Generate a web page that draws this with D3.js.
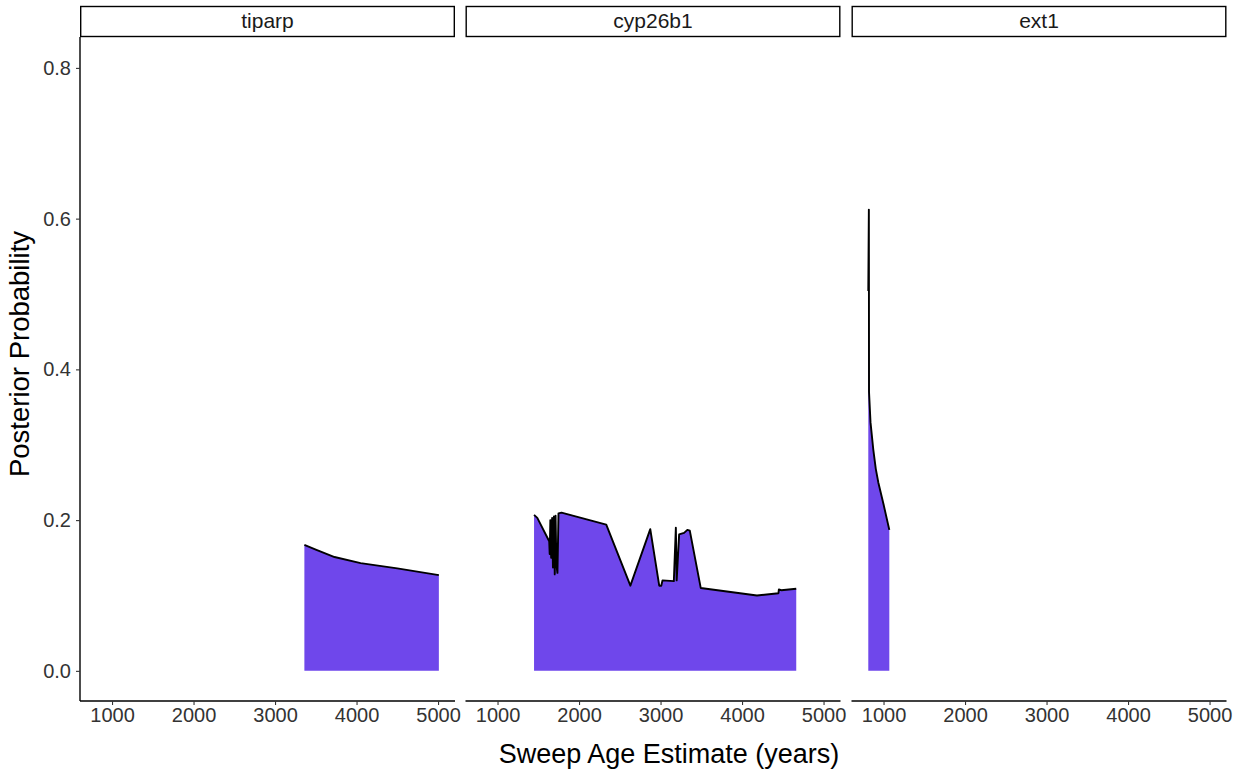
<!DOCTYPE html>
<html>
<head>
<meta charset="utf-8">
<script src="https://cdn.jsdelivr.net/npm/d3@7"></script>
<style>
  body { margin: 0; background: #fff; }
  text { font-family: "Liberation Sans", Arial, sans-serif; }
</style>
</head>
<body>
<div class="chart"></div>
<script>
// facet names
var genes = ["tiparp", "cyp26b1", "ext1"];

// [age, posterior]
var tiparpValues = [
  [3360, 0.167], [3500, 0.161], [3730, 0.151], [4050, 0.143],
  [4500, 0.136], [5010, 0.127]
];
var cyp26b1Values = [
  [1448, 0.207], [1488, 0.203], [1634, 0.172], [1640, 0.155], [1648, 0.200],
  [1658, 0.150], [1670, 0.203], [1680, 0.137], [1692, 0.205], [1702, 0.128],
  [1712, 0.206], [1722, 0.141], [1735, 0.130], [1748, 0.209], [1785, 0.210],
  [2334, 0.194], [2630, 0.113], [2874, 0.188], [2984, 0.113], [3009, 0.113],
  [3024, 0.120], [3163, 0.119], [3188, 0.190], [3198, 0.120], [3228, 0.181],
  [3289, 0.183], [3329, 0.187], [3359, 0.186], [3493, 0.110], [4183, 0.100],
  [4447, 0.103], [4452, 0.108], [4482, 0.107], [4665, 0.109]
];
var ext1Values = [
  [813, 0.504], [820, 0.612], [822, 0.370], [840, 0.330], [874, 0.294],
  [905, 0.268], [936, 0.250], [1000, 0.221], [1071, 0.187]
];
var xTicks = [1000, 2000, 3000, 4000, 5000];
var yTicks = [0.0, 0.2, 0.4, 0.6, 0.8];

var series = [tiparpValues, cyp26b1Values, ext1Values];

function init() {
  var w = 1239;
  var h = 771;
  var panelLefts = [80, 465.5, 851.5];
  var panelW = 375;
  var top = 37;
  var bottom = 701;
  var fill = "#6f47eb";

  var svg = d3.select(".chart")
    .append("svg")
    .attr("width", w)
    .attr("height", h);

  var yScale = d3.scaleLinear()
    .domain([-0.04, 0.841])
    .range([bottom, top]);

  genes.forEach(function(gene, i) {
    var x0 = panelLefts[i];
    var xScale = d3.scaleLinear()
      .domain([607, 5208])
      .range([x0, x0 + panelW]);

    var g = svg.append("g");

    var area = d3.area()
      .x(function(d) { return xScale(d[0]); })
      .y0(yScale(0))
      .y1(function(d) { return yScale(d[1]); });

    var line = d3.line()
      .x(function(d) { return xScale(d[0]); })
      .y(function(d) { return yScale(d[1]); });

    g.append("path")
      .datum(series[i])
      .attr("d", area)
      .attr("fill", fill);

    g.append("path")
      .datum(series[i])
      .attr("d", line)
      .attr("fill", "none")
      .attr("stroke", "#000")
      .attr("stroke-width", 1.9)
      .attr("stroke-linejoin", "round");

    // strip
    g.append("rect")
      .attr("x", x0 + 0.7)
      .attr("y", 6.5)
      .attr("width", panelW - 1.4)
      .attr("height", 30)
      .attr("fill", "#fff")
      .attr("stroke", "#000")
      .attr("stroke-width", 1.4);

    g.append("text")
      .attr("x", x0 + panelW / 2)
      .attr("y", 28)
      .attr("text-anchor", "middle")
      .attr("font-size", "21px")
      .attr("fill", "#1a1a1a")
      .text(gene);

    // x axis
    var xAxis = g.append("g")
      .attr("transform", "translate(0," + bottom + ")")
      .call(d3.axisBottom(xScale).tickValues(xTicks).tickSize(4).tickPadding(3).tickFormat(d3.format("d")));
    xAxis.select(".domain").attr("d", "M" + x0 + ",0H" + (x0 + panelW)).attr("stroke-width", 1.4);
    xAxis.selectAll(".tick line").attr("stroke", "#333").attr("stroke-width", 1.1);
    xAxis.selectAll(".tick text")
      .attr("font-size", "20px")
      .attr("fill", "#333")
      .style("font-family", "'Liberation Sans', Arial, sans-serif");
  });

  // y axis
  var yAxis = svg.append("g")
    .attr("transform", "translate(" + panelLefts[0] + ",0)")
    .call(d3.axisLeft(yScale).tickValues(yTicks).tickSize(4).tickPadding(5).tickFormat(d3.format(".1f")));
  yAxis.select(".domain").attr("d", "M0," + top + "V" + bottom).attr("stroke-width", 1.4);
  yAxis.selectAll(".tick line").attr("stroke", "#333").attr("stroke-width", 1.1);
  yAxis.selectAll(".tick text")
    .attr("font-size", "20px")
    .attr("fill", "#333")
    .style("font-family", "'Liberation Sans', Arial, sans-serif");

  svg.append("text")
    .attr("x", 669)
    .attr("y", 763)
    .attr("text-anchor", "middle")
    .attr("font-size", "27px")
    .attr("fill", "#000")
    .text("Sweep Age Estimate (years)");

  svg.append("text")
    .attr("transform", "rotate(-90)")
    .attr("x", -354)
    .attr("y", 29)
    .attr("text-anchor", "middle")
    .attr("font-size", "27.5px")
    .attr("fill", "#000")
    .text("Posterior Probability");
}

window.onload = init;
</script>
</body>
</html>
